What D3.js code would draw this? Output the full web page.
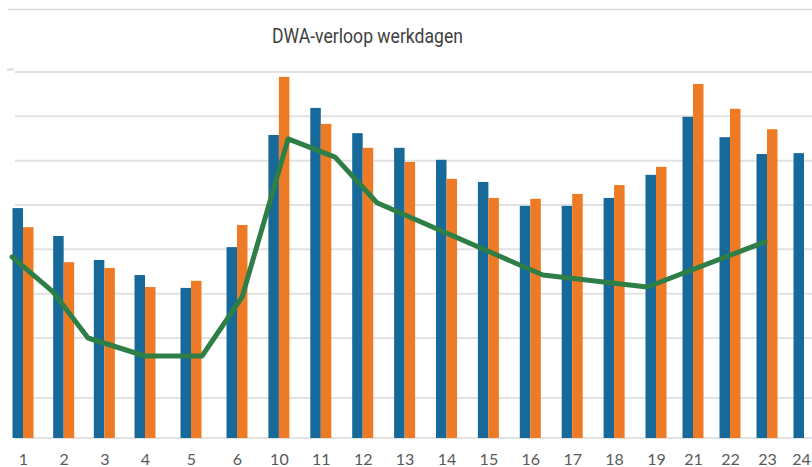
<!DOCTYPE html>
<html>
<head>
<meta charset="utf-8">
<script src="https://cdn.jsdelivr.net/npm/d3@7"></script>
<style>
  body { margin: 0; background: #fff; }
</style>
</head>
<body>
<svg id="chart" width="812" height="467"></svg>
<script>
// hours shown on the axis (7, 8, 9 and 20 are missing in the original)
const hours = ["1","2","3","4","5","6","10","11","12","13","14","15","16","17","18","19","21","22","23","24"];
const blueValues = [493,430,376,342,313,405,658,719,662,629,602,552,498,498,516,568,699,653,615,617];
const orangeValues = [450,371,358,315,329,455,789,683,629,597,559,516,514,525,545,586,773,717,671,null];
// green DWA line: position along the hour slots + value
const lineSlots = [-0.27,0.74,1.6,3.0,4.24,5.12,6.22,7.34,8.34,12.3,14.79,17.95];
const lineValues = [383,304,200,170,170,292,649,608,505,342,315,417];
const gridValues = [0,100,200,300,400,500,600,700,800];

const width = 812;
const blue = "#17699a";
const orange = "#ef7a25";
const green = "#2e7e47";
const gridColor = "#e2e2e2";
const barW = 10.5;

const svg = d3.select("#chart");

// the picture is a stitched screenshot, so both scales are piecewise
const slot = d3.scaleLinear().domain([0, 3, 5, 15, 19]).range([23, 145, 237, 656, 804]);
const y = d3.scaleLinear().domain([0, 100, 200, 800]).range([438, 398, 338, 72]);

// top border
svg.append("line")
  .attr("x1", 8).attr("x2", width)
  .attr("y1", 9.5).attr("y2", 9.5)
  .attr("stroke", "#dcdcdc").attr("stroke-width", 1.5);

// title
svg.append("text")
  .attr("x", 272).attr("y", 43)
  .attr("textLength", 191)
  .attr("lengthAdjust", "spacingAndGlyphs")
  .style("font-family", "Roboto, 'Liberation Sans', sans-serif")
  .style("font-size", "20px")
  .style("fill", "#404040")
  .text("DWA-verloop werkdagen");

// gridlines
svg.append("g")
  .selectAll("line")
  .data(gridValues)
  .join("line")
  .attr("x1", 15).attr("x2", width)
  .attr("y1", d => y(d)).attr("y2", d => y(d))
  .attr("stroke", gridColor)
  .attr("stroke-width", 2);

// little legend remnant at the left
svg.append("line")
  .attr("x1", 7).attr("x2", 14)
  .attr("y1", 69.5).attr("y2", 69.5)
  .attr("stroke", "#dadada").attr("stroke-width", 2);

// bars
svg.append("g")
  .selectAll("rect")
  .data(blueValues)
  .join("rect")
  .attr("x", (d, i) => slot(i) - barW)
  .attr("y", d => y(d))
  .attr("width", barW)
  .attr("height", d => y(0) - y(d))
  .attr("fill", blue);

svg.append("g")
  .selectAll("rect")
  .data(orangeValues.map((v, i) => ({ v, i })).filter(d => d.v != null))
  .join("rect")
  .attr("x", d => slot(d.i))
  .attr("y", d => y(d.v))
  .attr("width", barW)
  .attr("height", d => y(0) - y(d.v))
  .attr("fill", orange);

// line
const line = d3.line()
  .x((d, i) => slot(lineSlots[i]))
  .y(d => y(d));

svg.append("path")
  .datum(lineValues)
  .attr("d", line)
  .attr("fill", "none")
  .attr("stroke", green)
  .attr("stroke-width", 5)
  .attr("stroke-linejoin", "round")
  .attr("stroke-linecap", "round");

// x axis labels
const xAxis = d3.axisBottom(slot)
  .tickValues(d3.range(hours.length))
  .tickFormat(i => hours[i])
  .tickSize(0)
  .tickPadding(0);

const gx = svg.append("g")
  .attr("transform", "translate(0,450)")
  .call(xAxis);
gx.select(".domain").remove();
gx.selectAll("text")
  .attr("dy", "0.95em")
  .attr("dx", i => i === hours.length - 1 ? -3 : 0)
  .style("font-family", "Lato, 'Open Sans', sans-serif")
  .style("font-size", "16px")
  .style("fill", "#595959");
</script>
</body>
</html>
